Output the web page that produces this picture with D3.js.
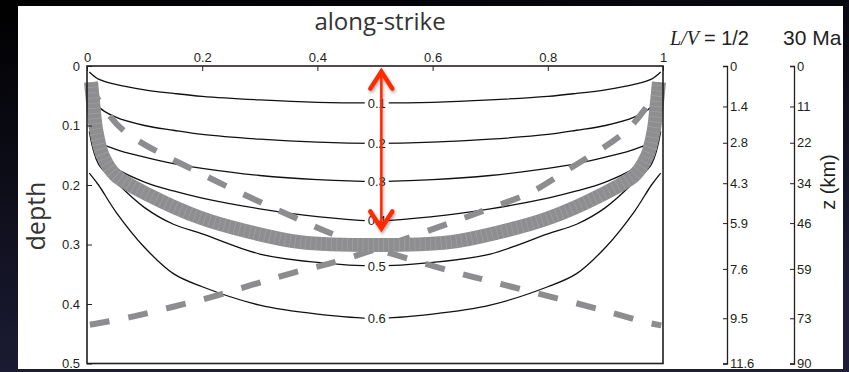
<!DOCTYPE html>
<html>
<head>
<meta charset="utf-8">
<script src="https://cdn.jsdelivr.net/npm/d3@7"></script>
<style>
  body { margin: 0; background: #000; }
  svg { display: block; }
  .tick text { font-family: 'Liberation Sans', Arial, sans-serif; font-size: 13px; fill: #231f20; }
  .tick line, .domain { stroke: #231f20; }
</style>
</head>
<body>
<div id="chart"></div>
<script>
/* global d3 */

// axis ticks
const strikeTicks = [0, 0.2, 0.4, 0.6, 0.8, 1];
const strikeLabels = ['0', '0.2', '0.4', '0.6', '0.8', '1'];
const depthTicks = [0, 0.1, 0.2, 0.3, 0.4, 0.5];
const depthLabels = ['0', '0.1', '0.2', '0.3', '0.4', '0.5'];

// right-hand scales (positions on the depth axis)
const zTickDepth = [0, 0.068, 0.129, 0.197, 0.264, 0.341, 0.424, 0.5];
const lvLabels = ['0', '1.4', '2.8', '4.3', '5.9', '7.6', '9.5', '11.6'];
const kmLabels = ['0', '11', '22', '34', '46', '59', '73', '90'];

// contour lines, depth sampled along strike
const alongStrike = [0.004, 0.02, 0.05, 0.1, 0.15, 0.2, 0.3, 0.4, 0.5, 0.6, 0.7, 0.8, 0.85, 0.9, 0.95, 0.98, 0.996];
const contourLevels = ['0.1', '0.2', '0.3', '0.4', '0.5', '0.6'];
const contour01 = [0.010, 0.022, 0.031, 0.040, 0.046, 0.051, 0.057, 0.061, 0.062, 0.061, 0.057, 0.051, 0.046, 0.040, 0.031, 0.022, 0.010];
const contour02 = [0.030, 0.068, 0.086, 0.100, 0.108, 0.115, 0.123, 0.128, 0.130, 0.128, 0.123, 0.115, 0.108, 0.100, 0.086, 0.068, 0.030];
const contour03 = [0.050, 0.125, 0.140, 0.153, 0.164, 0.172, 0.184, 0.191, 0.194, 0.191, 0.184, 0.172, 0.164, 0.153, 0.140, 0.125, 0.050];
const contour04 = [0.075, 0.150, 0.172, 0.195, 0.210, 0.222, 0.240, 0.253, 0.260, 0.253, 0.240, 0.222, 0.210, 0.195, 0.172, 0.150, 0.075];
const contour05 = [0.110, 0.165, 0.195, 0.238, 0.266, 0.282, 0.316, 0.330, 0.336, 0.330, 0.316, 0.282, 0.266, 0.238, 0.195, 0.165, 0.110];
const contour06 = [0.180, 0.200, 0.245, 0.305, 0.349, 0.371, 0.402, 0.417, 0.424, 0.417, 0.402, 0.371, 0.349, 0.305, 0.245, 0.200, 0.180];
const contours = [contour01, contour02, contour03, contour04, contour05, contour06];

// thick grey band
const bandU = [0.007, 0.011, 0.016, 0.027, 0.049, 0.110, 0.197, 0.283, 0.370, 0.5, 0.630, 0.717, 0.803, 0.890, 0.951, 0.973, 0.984, 0.989, 0.993];
const bandD = [0.027, 0.066, 0.108, 0.150, 0.183, 0.218, 0.255, 0.279, 0.296, 0.301, 0.296, 0.279, 0.255, 0.218, 0.183, 0.150, 0.108, 0.066, 0.027];

// dashed grey lines
const dashAU = [0.003, 0.020, 0.063, 0.196, 0.370, 0.439, 0.600, 0.737, 0.894, 0.967, 0.997];
const dashAD = [0.029, 0.057, 0.108, 0.180, 0.259, 0.287, 0.336, 0.371, 0.410, 0.430, 0.436];
const dashBU = [0.005, 0.075, 0.148, 0.217, 0.286, 0.356, 0.443, 0.630, 0.700, 0.769, 0.832, 0.937, 0.980, 0.997];
const dashBD = [0.435, 0.422, 0.405, 0.388, 0.368, 0.348, 0.326, 0.264, 0.239, 0.213, 0.176, 0.108, 0.057, 0.029];

// red double arrow
const arrowU = 0.511;
const arrowDepth = [0.0095, 0.273];

const width = 849;
const height = 372;

const svg = d3.select('#chart').append('svg')
  .attr('width', width)
  .attr('height', height);

const defs = svg.append('defs');

const bg = defs.append('linearGradient')
  .attr('id', 'bg')
  .attr('x1', 0).attr('y1', 0).attr('x2', 0.3).attr('y2', 1);
bg.append('stop').attr('offset', '0%').attr('stop-color', '#000');
bg.append('stop').attr('offset', '100%').attr('stop-color', '#1d1d38');

defs.append('clipPath').attr('id', 'panel')
  .append('rect')
  .attr('x', 18).attr('y', 6).attr('width', 825).attr('height', 363);

const shadow = defs.append('filter').attr('id', 'shadow')
  .attr('x', '-50%').attr('y', '-20%').attr('width', '200%').attr('height', '140%');
shadow.append('feDropShadow')
  .attr('dx', 1).attr('dy', 2).attr('stdDeviation', 1.5)
  .attr('flood-color', '#000').attr('flood-opacity', 0.35);

svg.append('rect')
  .attr('width', width)
  .attr('height', height)
  .attr('fill', 'url(#bg)');

const panel = svg.append('g').attr('clip-path', 'url(#panel)');

panel.append('rect')
  .attr('x', 18).attr('y', 6).attr('width', 825).attr('height', 363)
  .attr('fill', '#fff');

const xScale = d3.scaleLinear().domain([0, 1]).range([87, 663]);
const yScale = d3.scaleLinear().domain([0, 0.5]).range([66, 363.5]);

const line = d3.line()
  .x((d) => xScale(d[0]))
  .y((d) => yScale(d[1]))
  .curve(d3.curveCatmullRom.alpha(0.5));

const plot = panel.append('g').attr('class', 'plot');

// black contours
contours.forEach((c) => {
  plot.append('path')
    .attr('d', line(alongStrike.map((u, i) => [u, c[i]])))
    .style('fill', 'none')
    .style('stroke', '#111')
    .style('stroke-width', 1.3);
});

// contour labels with a gap in the line
const labelU = 0.503;
const labels = plot.append('g').attr('class', 'contourLabels');
contours.forEach((c, i) => {
  const mid = c[alongStrike.indexOf(0.5)];
  labels.append('rect')
    .attr('x', xScale(labelU) - 12)
    .attr('y', yScale(mid) - 6)
    .attr('width', 24)
    .attr('height', 12)
    .attr('fill', '#fff');
  labels.append('text')
    .attr('x', xScale(labelU))
    .attr('y', yScale(mid))
    .attr('dy', '0.36em')
    .attr('text-anchor', 'middle')
    .style('font-family', "'Liberation Sans', Arial, sans-serif")
    .style('font-size', '13px')
    .style('fill', '#231f20')
    .text(contourLevels[i]);
});

// dashed grey lines
[[dashAU, dashAD], [dashBU, dashBD]].forEach(([us, ds]) => {
  plot.append('path')
    .attr('d', line(us.map((u, i) => [u, ds[i]])))
    .style('fill', 'none')
    .style('stroke', '#8d8d8f')
    .style('stroke-width', 6)
    .style('stroke-dasharray', '20 19');
});

// thick grey band
const bandPath = line(bandU.map((u, i) => [u, bandD[i]]));
plot.append('path')
  .attr('d', bandPath)
  .style('fill', 'none')
  .style('stroke', '#8e8e90')
  .style('stroke-width', 14);
plot.append('path')
  .attr('d', bandPath)
  .style('fill', 'none')
  .style('stroke', '#a9a9ab')
  .style('stroke-width', 14)
  .style('stroke-dasharray', '0.7 4.5')
  .style('opacity', 0.7);

// frame
plot.append('rect')
  .attr('x', xScale(0))
  .attr('y', yScale(0))
  .attr('width', xScale(1) - xScale(0))
  .attr('height', yScale(0.5) - yScale(0))
  .style('fill', 'none')
  .style('stroke', '#231f20')
  .style('stroke-width', 1.6);

// axes
const xAxis = d3.axisTop(xScale)
  .tickValues(strikeTicks)
  .tickFormat((d, i) => strikeLabels[i])
  .tickSizeInner(-5)
  .tickSizeOuter(0)
  .tickPadding(4.5);

panel.append('g')
  .attr('class', 'xAxis')
  .attr('transform', `translate(0,${yScale(0)})`)
  .call(xAxis)
  .call((g) => g.select('.domain').remove());

const yAxis = d3.axisLeft(yScale)
  .tickValues(depthTicks)
  .tickFormat((d, i) => depthLabels[i])
  .tickSizeInner(-5)
  .tickSizeOuter(0)
  .tickPadding(7);

panel.append('g')
  .attr('class', 'yAxis')
  .attr('transform', `translate(${xScale(0)},0)`)
  .call(yAxis)
  .call((g) => g.select('.domain').remove());

// right-hand scales
const lvAxis = d3.axisRight(yScale)
  .tickValues(zTickDepth)
  .tickFormat((d, i) => lvLabels[i])
  .tickSizeInner(-4)
  .tickSizeOuter(-4)
  .tickPadding(3);

panel.append('g')
  .attr('class', 'lvAxis')
  .attr('transform', 'translate(727,0)')
  .call(lvAxis);

const kmAxis = d3.axisRight(yScale)
  .tickValues(zTickDepth)
  .tickFormat((d, i) => kmLabels[i])
  .tickSizeInner(-4)
  .tickSizeOuter(-4)
  .tickPadding(3);

panel.append('g')
  .attr('class', 'kmAxis')
  .attr('transform', 'translate(794,0)')
  .call(kmAxis);

panel.selectAll('.lvAxis .domain, .kmAxis .domain').style('stroke-width', 1.3);

// titles
panel.append('text')
  .attr('x', 380)
  .attr('y', 30)
  .attr('text-anchor', 'middle')
  .style('font-family', "'Open Sans', sans-serif")
  .style('font-size', '24px')
  .style('fill', '#333')
  .text('along-strike');

panel.append('text')
  .attr('transform', 'translate(45,216) rotate(-90)')
  .attr('text-anchor', 'middle')
  .style('font-family', "'Open Sans', sans-serif")
  .style('font-size', '25px')
  .style('fill', '#333')
  .text('depth');

const lvTitle = panel.append('text')
  .attr('x', 670)
  .attr('y', 45)
  .style('font-family', "'Liberation Sans', Arial, sans-serif")
  .style('font-size', '20px')
  .style('fill', '#231f20');
lvTitle.append('tspan')
  .style('font-family', "'Liberation Serif', 'Times New Roman', serif")
  .style('font-style', 'italic')
  .text('L/V');
lvTitle.append('tspan')
  .attr('dx', 5)
  .text('= 1/2');

panel.append('text')
  .attr('x', 783)
  .attr('y', 45)
  .style('font-family', "'Liberation Sans', Arial, sans-serif")
  .style('font-size', '21px')
  .style('fill', '#231f20')
  .text('30 Ma');

panel.append('text')
  .attr('transform', 'translate(835,182) rotate(-90)')
  .attr('text-anchor', 'middle')
  .style('font-family', "'Liberation Sans', Arial, sans-serif")
  .style('font-size', '20px')
  .style('fill', '#231f20')
  .text('z (km)');

// red arrow
const arrow = panel.append('g')
  .attr('class', 'arrow')
  .attr('filter', 'url(#shadow)')
  .style('fill', 'none')
  .style('stroke', '#ff2a00');

const ax = xScale(arrowU);
const ayTop = yScale(arrowDepth[0]);
const ayBottom = yScale(arrowDepth[1]);

arrow.append('line')
  .attr('x1', ax).attr('x2', ax)
  .attr('y1', ayTop + 2).attr('y2', ayBottom - 2)
  .style('stroke-width', 2.5);

arrow.append('path')
  .attr('d', `M${ax - 11},${ayTop + 17}L${ax},${ayTop}L${ax + 11},${ayTop + 17}`)
  .style('stroke-width', 4.5)
  .style('stroke-linecap', 'round');

arrow.append('path')
  .attr('d', `M${ax - 11},${ayBottom - 17}L${ax},${ayBottom}L${ax + 11},${ayBottom - 17}`)
  .style('stroke-width', 4.5)
  .style('stroke-linecap', 'round');
</script>
</body>
</html>
